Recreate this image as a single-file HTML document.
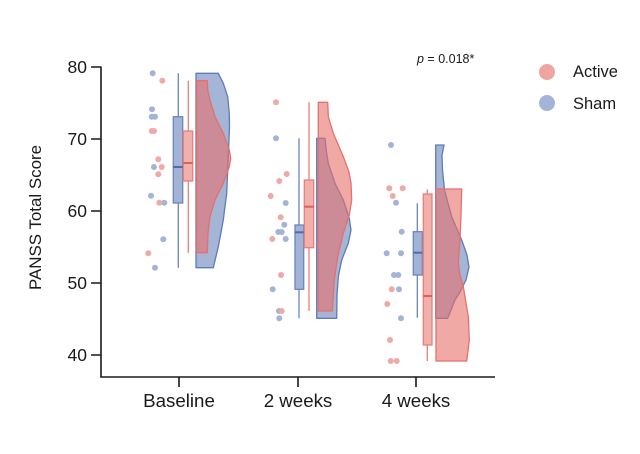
<!DOCTYPE html>
<html><head><meta charset="utf-8"><style>
html,body{margin:0;padding:0;background:#fff;}
svg{display:block;}
text{font-family:"Liberation Sans",Arial,sans-serif;fill:#1a1a1a;}
</style></head><body>
<svg width="640" height="454" viewBox="0 0 640 454" xmlns="http://www.w3.org/2000/svg">
<rect width="640" height="454" fill="#fff"/>
<!-- Axes -->
<g stroke="#1a1a1a" stroke-width="1.6" fill="none">
<path d="M101,66.5 V377 H495"/>
<path d="M91,67 H101 M91,139 H101 M91,211 H101 M91,283 H101 M91,355 H101"/>
<path d="M179,377 V387 M298,377 V387 M416,377 V387"/>
</g>
<g font-size="17.5" text-anchor="end">
<text x="87" y="73">80</text>
<text x="87" y="145">70</text>
<text x="87" y="217">60</text>
<text x="87" y="289">50</text>
<text x="87" y="361">40</text>
</g>
<text transform="translate(41,217.5) rotate(-90)" text-anchor="middle" font-size="17" textLength="145" lengthAdjust="spacingAndGlyphs">PANSS Total Score</text>
<g font-size="18.7" text-anchor="middle">
<text x="179" y="407">Baseline</text>
<text x="298" y="407">2 weeks</text>
<text x="416" y="407">4 weeks</text>
</g>
<text x="417" y="63" font-size="12.5"><tspan font-style="italic">p</tspan> = 0.018*</text>
<!-- Legend -->
<circle cx="547" cy="72" r="8" fill="#EEA5A2"/>
<circle cx="547" cy="103" r="8" fill="#A3B4D6"/>
<text x="573" y="77" font-size="16.5">Active</text>
<text x="573" y="109" font-size="16.5">Sham</text>

<!-- ===== Dots ===== -->
<g fill="#A3B4D6">
<circle cx="152.7" cy="73.3" r="3"/><circle cx="152" cy="109.3" r="3"/><circle cx="151.7" cy="116.7" r="3"/><circle cx="155" cy="116.7" r="3"/><circle cx="154" cy="167" r="3"/><circle cx="151" cy="195.7" r="3"/><circle cx="164.3" cy="202.7" r="3"/><circle cx="163.3" cy="239.3" r="3"/><circle cx="155" cy="267.7" r="3"/>
<circle cx="276" cy="138.3" r="3"/><circle cx="285.7" cy="203" r="3"/><circle cx="284.3" cy="224.7" r="3"/><circle cx="278.3" cy="232" r="3"/><circle cx="281.7" cy="232" r="3"/><circle cx="285.7" cy="239" r="3"/><circle cx="272.7" cy="289.3" r="3"/><circle cx="279" cy="311" r="3"/><circle cx="279.3" cy="318.3" r="3"/>
<circle cx="391" cy="145" r="3"/><circle cx="396" cy="202.7" r="3"/><circle cx="401.7" cy="231.7" r="3"/><circle cx="386.7" cy="253.3" r="3"/><circle cx="401" cy="253.3" r="3"/><circle cx="394" cy="275" r="3"/><circle cx="398.3" cy="275" r="3"/><circle cx="399" cy="289.3" r="3"/><circle cx="401" cy="318.3" r="3"/>
</g>
<g fill="#EFA9A6">
<circle cx="162.3" cy="80.7" r="3"/><circle cx="151.7" cy="131" r="3"/><circle cx="154" cy="131" r="3"/><circle cx="158.3" cy="159.3" r="3"/><circle cx="161.7" cy="167" r="3"/><circle cx="158.3" cy="174.3" r="3"/><circle cx="159.3" cy="202.7" r="3"/><circle cx="148.3" cy="253.3" r="3"/>
<circle cx="276" cy="102.3" r="3"/><circle cx="286.7" cy="174" r="3"/><circle cx="279.3" cy="181" r="3"/><circle cx="270.7" cy="196" r="3"/><circle cx="280.7" cy="217.3" r="3"/><circle cx="272.3" cy="239" r="3"/><circle cx="281" cy="275" r="3"/><circle cx="281.7" cy="311" r="3"/>
<circle cx="389.3" cy="188.3" r="3"/><circle cx="402.7" cy="188.3" r="3"/><circle cx="392.7" cy="196" r="3"/><circle cx="391.7" cy="289.3" r="3"/><circle cx="387.3" cy="304" r="3"/><circle cx="390" cy="340" r="3"/><circle cx="390.7" cy="361" r="3"/><circle cx="396.7" cy="361" r="3"/>
</g>

<!-- ===== Whiskers & boxes ===== -->
<g stroke-width="1.3">
<line x1="178.3" y1="73.3" x2="178.3" y2="267.7" stroke="#6A86BE"/>
<line x1="188.3" y1="80.7" x2="188.3" y2="252.7" stroke="#E8807A"/>
<line x1="299" y1="138.3" x2="299" y2="318.3" stroke="#6A86BE"/>
<line x1="309" y1="102.3" x2="309" y2="311" stroke="#E8807A"/>
<line x1="417.3" y1="203.3" x2="417.3" y2="317.7" stroke="#6A86BE"/>
<line x1="427.3" y1="189.3" x2="427.3" y2="361" stroke="#E8807A"/>
</g>
<g stroke-width="1.3">
<rect x="173.3" y="116.7" width="9.4" height="86.3" fill="#A2B3D5" stroke="#6A86BE"/>
<rect x="183.3" y="131" width="9.4" height="50" fill="#F0B0AC" stroke="#E8807A"/>
<rect x="295" y="225" width="8.7" height="64.3" fill="#A2B3D5" stroke="#6A86BE"/>
<rect x="304.3" y="180" width="9.4" height="67.7" fill="#F0B0AC" stroke="#E8807A"/>
<rect x="413.3" y="231.7" width="9" height="43.3" fill="#A2B3D5" stroke="#6A86BE"/>
<rect x="423.3" y="194" width="8.7" height="151" fill="#F0B0AC" stroke="#E8807A"/>
</g>
<g stroke-width="2">
<line x1="173.3" y1="167" x2="182.7" y2="167" stroke="#4F6CA8"/>
<line x1="183.3" y1="163" x2="192.7" y2="163" stroke="#D9605B"/>
<line x1="295" y1="232.3" x2="303.7" y2="232.3" stroke="#4F6CA8"/>
<line x1="304.3" y1="206.7" x2="313.7" y2="206.7" stroke="#D9605B"/>
<line x1="413.3" y1="252.7" x2="422.3" y2="252.7" stroke="#4F6CA8"/>
<line x1="423.3" y1="296" x2="432" y2="296" stroke="#D9605B"/>
</g>

<!-- ===== Violins ===== -->
<g stroke-width="1.3" stroke-linejoin="round">
<!-- Sham (blue) -->
<path fill="rgba(90,120,180,0.55)" stroke="#5E7CB8" d="M196,73.3 L218.3,73.3 L223.3,83.3 L227.7,96.7 L229.3,113.3 L229.5,126.7 L228.3,156.7 L226.7,193.3 L223.3,220 L218.3,246.7 L213.3,267.7 L196,267.7 Z"/>
<path fill="rgba(90,120,180,0.55)" stroke="#5E7CB8" d="M316.7,138.3 L325,138.3 L326.5,152 L328.3,163.3 L335,183.3 L343.3,200 L349.3,218.3 L351,230 L348.3,243.3 L341.7,260 L338.3,276.7 L337,295 L336.7,318.3 L316.7,318.3 Z"/>
<path fill="rgba(90,120,180,0.55)" stroke="#5E7CB8" d="M435.7,145 L444,145 L442,155 L442.5,170 L444.5,190 L451.7,216.7 L461.7,240 L467,255 L469,267 L466,280 L460,292 L455,300 L447.7,318.3 L435.7,318.3 Z"/>
<!-- Active (red) -->
<path fill="rgba(232,112,107,0.6)" stroke="#E5706C" d="M196.7,80.7 L207.3,80.7 L207.7,90 L210,100 L215,116.7 L223.3,133.3 L229.3,150 L230.7,158.3 L229.3,166.7 L223.3,183.3 L215,200 L210,216.7 L208,233.3 L207.3,252.7 L196.7,252.7 Z"/>
<path fill="rgba(232,112,107,0.6)" stroke="#E5706C" d="M318.3,102.3 L327.7,102.3 L328.3,116.7 L333.3,133.3 L343.3,156.7 L349,172 L351,183.3 L351.7,200 L349.3,215 L343.3,233.3 L337.7,256.7 L334.3,280 L332.3,311 L318.3,311 Z"/>
<path fill="rgba(232,112,107,0.6)" stroke="#E5706C" d="M436,189 L461.7,189 L461,215 L460,240 L458.3,263 L460,275 L463.3,286.7 L468.3,316.7 L469.3,340 L466.7,361 L436,361 Z"/>
</g>
</svg>
</body></html>
